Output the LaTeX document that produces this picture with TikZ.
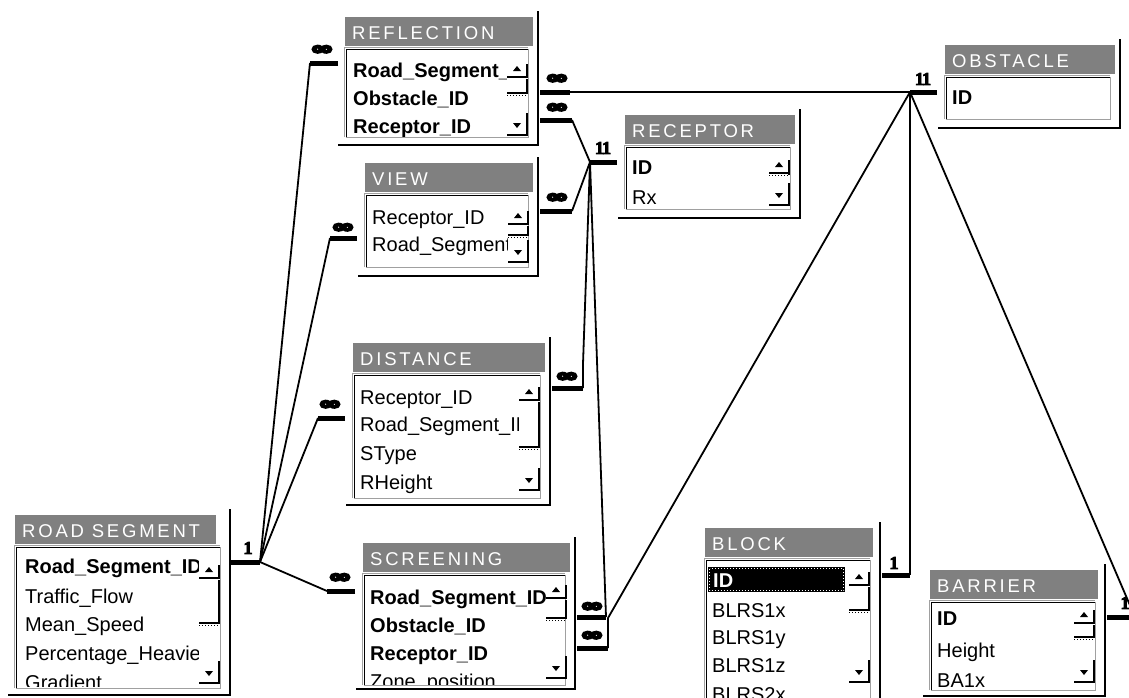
\documentclass[tikz,border=0pt]{standalone}
\usepackage{fontspec}
\setmainfont{Liberation Sans}
\newfontfamily\titlefont[LetterSpace=15]{Liberation Sans}
\newfontfamily\inffont[FakeBold=12]{DejaVu Sans Bold}
\newfontfamily\onefont[FakeBold=5]{Liberation Serif Bold}
\definecolor{titlegray}{HTML}{808080}
\definecolor{boxgray}{HTML}{A0A0A0}
\tikzset{
  framel/.style={line width=2.5pt, black},
  conn/.style={line width=1.8pt, black, line join=miter},
  stubl/.style={line width=5pt, black},
  sbline/.style={line width=1.6pt, black},
  fieldtxt/.style={anchor=base west, inner sep=0pt, font=\fontsize{20}{24}\selectfont},
  keytxt/.style={anchor=base west, inner sep=0pt, font=\fontsize{20}{24}\selectfont\bfseries},
  titletxt/.style={anchor=base west, inner sep=0pt, text=white, font=\titlefont\fontsize{18.5}{20}\selectfont},
  inflabel/.style={inner sep=0pt, font=\inffont\fontsize{17}{17}\selectfont},
  onelabel/.style={inner sep=0pt, font=\onefont\fontsize{18}{18}\selectfont},
}
% #1 name, #2 title, #3 L, #4 T, #5 title right, #6 frame x, #7 frame bottom, #8 listbox bottom
\newcommand{\acctbl}[8]{%
  \fill[titlegray] (#3,#4) rectangle (#5,#4+29);
  \node[titletxt] (#1-title) at (#3+7,#4+22) {#2};
  \draw[framel] (#6,#4-6) -- (#6,#7) -- (#3-7,#7);
  \draw[boxgray, line width=1pt] (#3+1,#8) -- (#6-10,#8) -- (#6-10,#4+32);
  \draw[boxgray, line width=1pt] (#3-0.5,#8) -- (#3-0.5,#4+30.5) -- (#6-10,#4+30.5);
  \draw[black, line width=1.5pt] (#3+1.5,#8) -- (#3+1.5,#4+32.5) -- (#6-10,#4+32.5);
}
% #1 xr, #2 up bottom, #3 thumb bottom, #4 down bottom
\newcommand{\sbar}[4]{%
  \fill (#1-14,#2-6) -- (#1-6,#2-6) -- (#1-10,#2-11) -- cycle;
  \draw[sbline] (#1,#2-13) -- (#1,#2) -- (#1-20,#2);
  \draw[sbline] (#1,#2+2) -- (#1,#3) -- (#1-20,#3);
  \draw[black, dotted, line width=1pt] (#1-20,#3+2) -- (#1,#3+2);
  \fill (#1-14,#4-12) -- (#1-6,#4-12) -- (#1-10,#4-7) -- cycle;
  \draw[sbline] (#1,#4-22) -- (#1,#4) -- (#1-20,#4);
}
\begin{document}
\begin{tikzpicture}[x=1pt,y=-1pt]
\useasboundingbox (0,0) rectangle (1129,697);
\clip (0,0) rectangle (1129,697);
\fill[white] (0,0) rectangle (1129,697);

% REFLECTION
\acctbl{refl}{REFLECTION}{345}{17}{533}{538}{145}{137}
\sbar{527}{77}{93}{135}
\begin{scope}
\clip (348,52) rectangle (506,136);
\node[keytxt] (refl-f1) at (353,77) {Road\_Segment\_ID};
\node[keytxt] (refl-f2) at (353,105) {Obstacle\_ID};
\node[keytxt] (refl-f3) at (353,133) {Receptor\_ID};
\end{scope}

% VIEW
\acctbl{view}{VIEW}{365}{163}{533}{538}{276}{267}
\sbar{528}{224}{235}{262}
\begin{scope}
\clip (368,198) rectangle (507,266);
\node[fieldtxt] (view-f1) at (372,224) {Receptor\_ID};
\node[fieldtxt] (view-f2) at (372,251) {Road\_Segment\_ID};
\end{scope}

% DISTANCE
\acctbl{dist}{DISTANCE}{353}{343}{545}{550}{505}{498}
\sbar{539}{400}{447}{490}
\begin{scope}
\clip (356,376) rectangle (518,497);
\node[fieldtxt] (dist-f1) at (360,404) {Receptor\_ID};
\node[fieldtxt] (dist-f2) at (360,431) {Road\_Segment\_ID};
\node[fieldtxt] (dist-f3) at (360,460) {SType};
\node[fieldtxt] (dist-f4) at (360,489) {RHeight};
\end{scope}

% SCREENING
\acctbl{scr}{SCREENING}{363}{543}{570}{575}{689}{685}
\sbar{566}{598}{618}{678}
\begin{scope}
\clip (366,576) rectangle (545,684);
\node[keytxt] (scr-f1) at (370,604) {Road\_Segment\_ID};
\node[keytxt] (scr-f2) at (370,632) {Obstacle\_ID};
\node[keytxt] (scr-f3) at (370,660) {Receptor\_ID};
\node[fieldtxt] (scr-f4) at (370,688) {Zone\_position};
\end{scope}

% ROAD SEGMENT
\acctbl{road}{ROAD SEGMENT}{15}{515}{216}{230}{695}{688}
\sbar{219}{578}{623}{683}
\begin{scope}
\clip (18,548) rectangle (198,686);
\node[keytxt] (road-f1) at (25,573) {Road\_Segment\_ID};
\node[fieldtxt] (road-f2) at (25,603) {Traffic\_Flow};
\node[fieldtxt] (road-f3) at (25,631) {Mean\_Speed};
\node[fieldtxt] (road-f4) at (25,660) {Percentage\_Heavies};
\node[fieldtxt] (road-f5) at (25,689) {Gradient};
\end{scope}

% RECEPTOR
\acctbl{rec}{RECEPTOR}{625}{115}{795}{800}{218}{209}
\sbar{789}{173}{173}{205}
\begin{scope}
\clip (628,148) rectangle (768,208);
\node[keytxt] (rec-f1) at (632,174) {ID};
\node[fieldtxt] (rec-f2) at (632,204) {Rx};
\end{scope}

% OBSTACLE
\acctbl{obs}{OBSTACLE}{945}{45}{1115}{1120}{128}{119}
\node[keytxt] (obs-f1) at (952,104) {ID};

% BLOCK
\acctbl{blk}{BLOCK}{705}{528}{873}{880}{720}{720}
\sbar{869}{585}{610}{682}
\fill[black] (708,567) rectangle (845,592);
\draw[white, dotted, line width=1pt] (709.5,568.5) rectangle (843.5,590.5);
\begin{scope}
\clip (708,561) rectangle (848,697);
\node[keytxt, text=white] (blk-f1) at (713,587) {ID};
\node[fieldtxt] (blk-f2) at (712,617) {BLRS1x};
\node[fieldtxt] (blk-f3) at (712,644) {BLRS1y};
\node[fieldtxt] (blk-f4) at (712,672) {BLRS1z};
\node[fieldtxt] (blk-f5) at (712,701) {BLRS2x};
\end{scope}

% BARRIER
\acctbl{bar}{BARRIER}{930}{570}{1098}{1105}{696}{690}
\sbar{1094}{623}{637}{682}
\begin{scope}
\clip (933,603) rectangle (1073,689);
\node[keytxt] (bar-f1) at (937,625) {ID};
\node[fieldtxt] (bar-f2) at (937,657) {Height};
\node[fieldtxt] (bar-f3) at (937,687) {BA1x};
\end{scope}

% ---------- connectors ----------
\coordinate (rs-a) at (230,562); \coordinate (rs-hub) at (260,562);
\coordinate (rc-a) at (617,162); \coordinate (rc-hub) at (590,162);
\coordinate (ob-a) at (937,92);  \coordinate (ob-hub) at (910,92);
\draw[stubl] (rs-a) -- (rs-hub);
\draw[stubl] (rc-a) -- (rc-hub);
\draw[stubl] (ob-a) -- (ob-hub);
\node[onelabel] (rs-one) at (248,548) {1};
\node[onelabel] (rc-one) at (603,148) {1\kern-2pt1};
\node[onelabel] (ob-one) at (923,79) {1\kern-2pt1};

% ROAD SEGMENT relations
\coordinate (rf1-a) at (338,63);  \coordinate (rf1-b) at (310,63);
\coordinate (vw1-a) at (357,238); \coordinate (vw1-b) at (330,238);
\coordinate (ds1-a) at (345,418); \coordinate (ds1-b) at (318,418);
\coordinate (sc1-a) at (355,591); \coordinate (sc1-b) at (327,591);
\draw[stubl] (rf1-a) -- (rf1-b);
\draw[stubl] (vw1-a) -- (vw1-b);
\draw[stubl] (ds1-a) -- (ds1-b);
\draw[stubl] (sc1-a) -- (sc1-b);
\draw[conn] (rf1-b) -- (rs-hub);
\draw[conn] (vw1-b) -- (rs-hub);
\draw[conn] (ds1-b) -- (rs-hub);
\draw[conn] (sc1-b) -- (rs-hub);
\node[inflabel] (rf1-inf) at (322,50) {\scalebox{1.6}[1]{∞}};
\node[inflabel] (vw1-inf) at (343,228) {\scalebox{1.6}[1]{∞}};
\node[inflabel] (ds1-inf) at (330,405) {\scalebox{1.6}[1]{∞}};
\node[inflabel] (sc1-inf) at (340,578) {\scalebox{1.6}[1]{∞}};

% RECEPTOR relations
\coordinate (rf2-a) at (540,120); \coordinate (rf2-b) at (572,120);
\coordinate (vw2-a) at (540,211); \coordinate (vw2-b) at (572,211);
\coordinate (ds2-a) at (552,388); \coordinate (ds2-b) at (583,388);
\coordinate (sc2-a) at (577,617); \coordinate (sc2-b) at (606,617);
\draw[stubl] (rf2-a) -- (rf2-b);
\draw[stubl] (vw2-a) -- (vw2-b);
\draw[stubl] (ds2-a) -- (ds2-b);
\draw[stubl] (sc2-a) -- (sc2-b);
\draw[conn] (rf2-b) -- (rc-hub);
\draw[conn] (vw2-b) -- (rc-hub);
\draw[conn] (ds2-b) -- ++(0,-24) -- (rc-hub);
\draw[conn] (sc2-b) -- (rc-hub);
\node[inflabel] (rf2-inf) at (557,108) {\scalebox{1.6}[1]{∞}};
\node[inflabel] (vw2-inf) at (557,198) {\scalebox{1.6}[1]{∞}};
\node[inflabel] (ds2-inf) at (567,377) {\scalebox{1.6}[1]{∞}};
\node[inflabel] (sc2-inf) at (592,607) {\scalebox{1.6}[1]{∞}};

% OBSTACLE relations
\coordinate (rf3-a) at (540,92);  \coordinate (rf3-b) at (570,92);
\coordinate (sc3-a) at (577,648); \coordinate (sc3-b) at (608,648);
\coordinate (bk-a) at (882,575);  \coordinate (bk-b) at (910,575);
\coordinate (br-a) at (1107,617); \coordinate (br-b) at (1135,617);
\draw[stubl] (rf3-a) -- (rf3-b);
\draw[stubl] (sc3-a) -- (sc3-b);
\draw[stubl] (bk-a) -- (bk-b);
\draw[stubl] (br-a) -- (br-b);
\draw[conn] (rf3-b) -- (ob-hub);
\draw[conn] (sc3-b) -- ++(0,-30) -- (ob-hub);
\draw[conn] (bk-b) -- (ob-hub);
\draw[conn] (br-b) -- (ob-hub);
\node[inflabel] (rf3-inf) at (557,79) {\scalebox{1.6}[1]{∞}};
\node[inflabel] (sc3-inf) at (592,636) {\scalebox{1.6}[1]{∞}};
\node[onelabel] (bk-one) at (894,563) {1};
\node[onelabel] (br-one) at (1125,603) {1};
\end{tikzpicture}
\end{document}
